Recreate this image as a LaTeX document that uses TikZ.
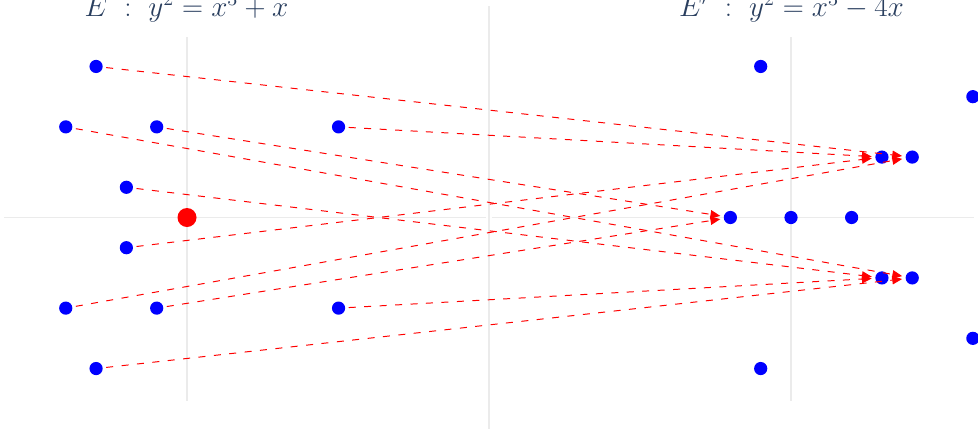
\documentclass[tikz,border=0pt]{standalone}
\usepackage{tikz}
\usetikzlibrary{arrows.meta}
\definecolor{titlecol}{HTML}{2A3F5F}
\definecolor{gridcol}{HTML}{EBEBEB}

\begin{document}
\begin{tikzpicture}[
  x=0.025cm, y=-0.025cm,
  pt/.style={circle, fill=blue, inner sep=0pt, minimum size=0.33cm, outer sep=0.09cm},
  kernel/.style={circle, fill=red, inner sep=0pt, minimum size=0.475cm},
  axis/.style={draw=gridcol, line width=1.1pt},
  divider/.style={draw=gridcol, line width=1.8pt},
  maparr/.style={red, line width=0.7pt, dash pattern=on 5pt off 6pt, -{Triangle[length=7pt, width=6pt]}},
  curvetitle/.style={anchor=base, text=titlecol, font=\fontsize{20.5}{24}\selectfont}
]
\useasboundingbox (0,0) rectangle (978,429);
\draw[divider] (489,6) -- (489,429);
\node[curvetitle] (ltitle) at (186.5,16) {$E \ :\ y^2 = x^3 + x$};
\node[curvetitle] (rtitle) at (791.5,16) {$E' \ :\ y^2 = x^3 - 4x$};

% E : y^2 = x^3 + x
\begin{scope}[shift={(187,217.5)}, x=0.7575cm, y=0.755cm]
  \draw[axis] (-6.03,0) -- (9.87,0);
  \draw[axis] (0,-6.06) -- (0,5.96);
  \node[pt] (eA) at (-3,5) {};
  \node[pt] (eB) at (-4,3) {};
  \node[pt] (eC) at (-1,3) {};
  \node[pt] (eD) at (5,3) {};
  \node[pt] (eE) at (-2,1) {};
  \node[kernel] (ker) at (0,0) {};
  \node[pt] (eF) at (-2,-1) {};
  \node[pt] (eG) at (-4,-3) {};
  \node[pt] (eH) at (-1,-3) {};
  \node[pt] (eI) at (5,-3) {};
  \node[pt] (eJ) at (-3,-5) {};
\end{scope}

% E' : y^2 = x^3 - 4x
\begin{scope}[shift={(791,217.5)}, x=0.7575cm, y=0.755cm]
  \draw[axis] (-9.87,0) -- (6.03,0);
  \draw[axis] (0,-6.06) -- (0,5.96);
  \node[pt] (fA) at (-1,5) {};
  \node[pt] (fB) at (6,4) {};
  \node[pt] (fC) at (3,2) {};
  \node[pt] (fD) at (4,2) {};
  \node[pt] (fE) at (-2,0) {};
  \node[pt] (fF) at (0,0) {};
  \node[pt] (fG) at (2,0) {};
  \node[pt] (fH) at (3,-2) {};
  \node[pt] (fI) at (4,-2) {};
  \node[pt] (fJ) at (6,-4) {};
  \node[pt] (fK) at (-1,-5) {};
\end{scope}

% the isogeny
\draw[maparr] (eA) -- (fD);
\draw[maparr] (eB) -- (fI);
\draw[maparr] (eC) -- (fE);
\draw[maparr] (eD) -- (fC);
\draw[maparr] (eE) -- (fH);
\draw[maparr] (eF) -- (fC);
\draw[maparr] (eG) -- (fD);
\draw[maparr] (eH) -- (fE);
\draw[maparr] (eI) -- (fH);
\draw[maparr] (eJ) -- (fI);
\end{tikzpicture}
\end{document}
